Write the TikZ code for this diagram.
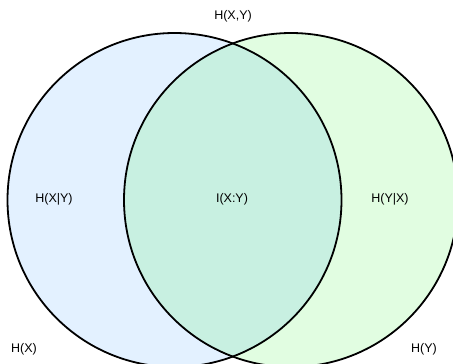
\documentclass[tikz,border=0pt]{standalone}
\usepackage{fontspec}
\setmainfont{Liberation Sans}
\usepackage{tikz}
\definecolor{bleuX}{HTML}{E3F1FF}
\definecolor{vertY}{HTML}{E1FDE1}
\definecolor{vertXY}{HTML}{C8F0E1}
\begin{document}
\begin{tikzpicture}[x=1pt,y=-1pt,
  etiquette/.style={font=\fontsize{12.5}{15}\selectfont, inner sep=0pt}]
%cadre
\useasboundingbox (0,0) rectangle (453,364);
\clip (0,0) rectangle (453,364);
%fin

%centres
\coordinate (cX) at (174.5,200);
\coordinate (cY) at (291,200);
%fin

%remplissage
\fill[bleuX] (cX) circle (167);
\fill[vertY] (cY) circle (167);
\begin{scope}
\clip (cX) circle (167);
\fill[vertXY] (cY) circle (167);
\end{scope}
%fin

%cercles
\draw[line width=1.8pt] (cX) circle (167);
\draw[line width=1.8pt] (cY) circle (167);
%fin

%legende
\node[etiquette] (hxy) at (233,16) {H(X,Y)};
\node[etiquette] (hxsy) at (54,199) {H(X|Y)};
\node[etiquette] (ixy) at (232,199) {I(X:Y)};
\node[etiquette] (hysx) at (390,199) {H(Y|X)};
\node[etiquette] (hx) at (24,349) {H(X)};
\node[etiquette] (hy) at (424,349) {H(Y)};
%fin
\end{tikzpicture}
\end{document}
